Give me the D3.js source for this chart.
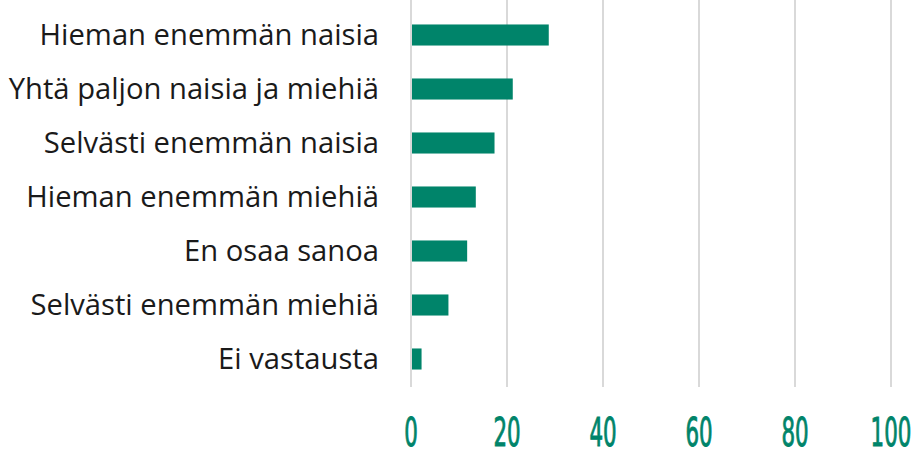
<!DOCTYPE html>
<html>
<head>
<meta charset="utf-8">
<script src="https://cdn.jsdelivr.net/npm/d3@7"></script>
<style>
  body { margin: 0; background: #fff; }
  svg { display: block; }
</style>
</head>
<body>
<svg width="921" height="451"></svg>
<script>
// categories and values, top to bottom
var categories = [
  "Hieman enemmän naisia",
  "Yhtä paljon naisia ja miehiä",
  "Selvästi enemmän naisia",
  "Hieman enemmän miehiä",
  "En osaa sanoa",
  "Selvästi enemmän miehiä",
  "Ei vastausta"
];
var values = [28.7, 21.2, 17.4, 13.5, 11.7, 7.8, 2.2];
var tickValues = [0, 20, 40, 60, 80, 100];

var svg = d3.select("svg");
var green = "#00846a";

var x = d3.scaleLinear().domain([0, 100]).range([411, 891]);
var y = d3.scaleBand()
    .domain(categories)
    .range([8, 386])
    .paddingInner(0.61)
    .paddingOuter(0.305);

// gridlines
svg.append("g")
    .selectAll("line")
    .data(tickValues)
    .enter().append("line")
      .attr("x1", function (d) { return x(d); })
      .attr("x2", function (d) { return x(d); })
      .attr("y1", 0)
      .attr("y2", 387)
      .attr("stroke", "#d9d9d9")
      .attr("stroke-width", 2);

// bars
svg.append("g")
    .selectAll("rect")
    .data(values)
    .enter().append("rect")
      .attr("x", x(0) + 1)
      .attr("y", function (d, i) { return y(categories[i]); })
      .attr("width", function (d) { return x(d) - x(0) - 1; })
      .attr("height", y.bandwidth())
      .attr("fill", green);

// category labels
svg.append("g")
    .selectAll("text")
    .data(categories)
    .enter().append("text")
      .attr("x", 379)
      .attr("y", function (d) { return y(d) + y.bandwidth() / 2; })
      .attr("dy", "0.35em")
      .attr("text-anchor", "end")
      .attr("font-family", "'Open Sans', 'Noto Sans', sans-serif")
      .attr("font-size", 29.2)
      .attr("fill", "#1a1a1a")
      .text(function (d) { return d; });

// x tick labels
svg.append("g")
    .selectAll("text")
    .data(tickValues)
    .enter().append("text")
      .attr("x", function (d) { return x(d); })
      .attr("y", 446)
      .attr("text-anchor", "middle")
      .attr("font-family", "'Liberation Sans Narrow', 'DejaVu Sans Condensed', sans-serif")
      .attr("font-size", 39)
      .attr("fill", green)
      .attr("stroke", green)
      .attr("stroke-width", 0.9)
      .attr("textLength", function (d) { return String(d).length * 13.6; })
      .attr("lengthAdjust", "spacingAndGlyphs")
      .text(function (d) { return d; });
</script>
</body>
</html>
